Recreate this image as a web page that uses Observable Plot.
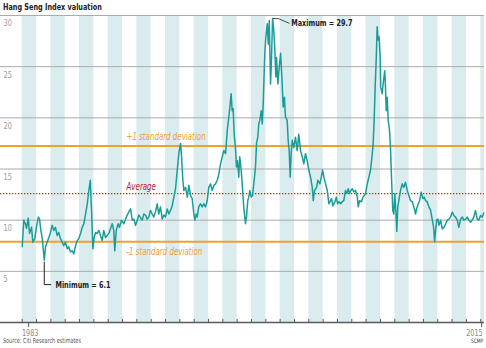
<!DOCTYPE html>
<html>
<head>
<meta charset="utf-8">
<script src="https://cdn.jsdelivr.net/npm/d3@7"></script>
<script src="https://cdn.jsdelivr.net/npm/@observablehq/plot@0.6"></script>
<style>
  html, body { margin: 0; padding: 0; background: #fff; }
  body { width: 486px; height: 348px; position: relative; overflow: hidden;
         font-family: "Liberation Sans Narrow", "DejaVu Sans Condensed", Roboto, sans-serif; }
  #title { position: absolute; left: 3px; top: 0; height: 13px; line-height: 13px;
           font-size: 9.5px; font-weight: bold; color: #222; white-space: nowrap;
           transform: scaleX(0.76); transform-origin: 0 50%; }
  #chart { position: absolute; left: 0; top: 12px; }
  #source { position: absolute; left: 3px; top: 336px; line-height: 10px; font-size: 7px; color: #555; white-space: nowrap;
            transform: scaleX(0.78); transform-origin: 0 50%; }
  #credit { position: absolute; right: 3px; top: 336px; line-height: 10px; font-size: 6px; color: #333; white-space: nowrap;
            transform: scaleX(0.8); transform-origin: 100% 50%; }
</style>
</head>
<body>
<div id="title">Hang Seng Index valuation</div>
<div id="chart"></div>
<div id="source">Source: Citi Research estimates</div>
<div id="credit">SCMP</div>
<script>
// ---- Data ----
const years = [
  1983.00,1983.11,1983.23,1983.30,1983.42,1983.51,1983.65,1983.74,1983.88,1983.98,
  1984.12,1984.21,1984.28,1984.40,1984.54,1984.63,1984.74,1984.86,1984.97,
  1985.09,1985.21,1985.32,1985.44,1985.55,1985.67,1985.79,1985.90,
  1986.02,1986.14,1986.25,1986.37,1986.49,1986.60,1986.72,1986.84,1986.95,
  1987.07,1987.19,1987.30,1987.42,1987.54,1987.65,1987.75,1987.84,1987.93,
  1988.02,1988.12,1988.23,1988.35,1988.46,1988.58,1988.69,1988.81,
  1989.04,1989.16,1989.28,1989.39,1989.46,1989.56,1989.70,1989.79,1989.93,
  1990.09,1990.21,1990.33,1990.44,1990.56,1990.68,1990.79,1990.91,
  1991.03,1991.14,1991.37,1991.49,1991.60,1991.72,1991.83,1991.95,
  1992.07,1992.18,1992.30,1992.42,1992.53,1992.65,1992.77,1992.88,
  1993.00,1993.12,1993.23,1993.35,1993.47,1993.58,1993.70,1993.82,1993.93,
  1994.05,1994.12,1994.21,1994.28,1994.40,1994.52,1994.63,1994.75,1994.86,1994.98,
  1995.05,1995.14,1995.21,1995.32,1995.44,1995.56,1995.67,1995.79,1995.91,
  1996.02,1996.14,1996.26,1996.37,1996.49,1996.61,1996.72,1996.84,1996.96,
  1997.07,1997.19,1997.31,1997.42,1997.49,1997.58,1997.65,1997.72,1997.79,1997.88,1997.95,
  1998.02,1998.11,1998.18,1998.28,1998.35,1998.46,1998.58,1998.65,1998.74,1998.81,1998.88,1998.98,
  1999.07,1999.16,1999.28,1999.35,1999.44,1999.51,1999.58,1999.68,1999.75,1999.82,1999.86,1999.93,
  2000.00,2000.10,2000.17,2000.24,2000.33,2000.40,2000.47,2000.56,2000.63,2000.70,2000.75,2000.84,2000.94,
  2001.03,2001.12,2001.21,2001.30,2001.37,2001.49,2001.56,2001.63,2001.70,2001.77,2001.84,2001.95,
  2002.07,2002.19,2002.30,2002.42,2002.54,2002.65,2002.77,2002.89,
  2003.00,2003.12,2003.24,2003.31,2003.40,2003.54,2003.63,2003.77,2003.87,2003.96,
  2004.05,2004.17,2004.29,2004.40,2004.59,2004.68,2004.82,2004.92,
  2005.01,2005.10,2005.22,2005.33,2005.44,2005.56,2005.65,2005.75,2005.84,2005.93,
  2006.03,2006.14,2006.26,2006.38,2006.45,2006.54,2006.68,2006.77,2006.87,2006.96,
  2007.08,2007.19,2007.31,2007.43,2007.49,2007.56,2007.63,2007.70,2007.77,2007.84,2007.91,2007.98,
  2008.02,2008.12,2008.21,2008.30,2008.35,2008.40,2008.47,2008.54,2008.63,2008.70,2008.77,2008.86,2008.93,
  2009.00,2009.07,2009.14,2009.21,2009.28,2009.40,2009.52,2009.63,2009.75,2009.87,2009.98,
  2010.10,2010.22,2010.33,2010.45,2010.52,2010.64,2010.73,2010.84,2010.96,
  2011.05,2011.15,2011.26,2011.38,2011.50,2011.62,2011.71,2011.78,2011.85,2011.92,
  2012.01,2012.08,2012.20,2012.31,2012.43,2012.55,2012.66,2012.78,2012.89,
  2013.01,2013.12,2013.24,2013.36,2013.47,2013.59,2013.71,2013.82,2013.94,
  2014.06,2014.17,2014.29,2014.40,2014.51,2014.63,2014.75,2014.86,2014.98,
  2015.10,2015.21
];
const peRatio = [
  7.4,10.0,9.6,9.2,10.2,8.7,9.3,7.85,8.2,9.2,
  10.3,10.1,9.2,8.2,6.1,7.4,7.85,8.3,8.8,
  9.5,9.0,9.3,8.5,8.8,8.2,7.85,7.5,
  7.85,7.2,7.4,6.9,7.0,6.7,7.5,8.0,8.2,
  8.7,9.3,9.65,10.6,11.6,12.9,13.9,10.9,7.2,
  8.3,8.8,8.7,9.0,8.5,8.0,9.0,8.3,
  8.7,9.15,9.65,9.0,7.0,9.0,9.65,9.3,10.0,
  9.65,10.1,10.5,10.8,11.1,10.0,10.1,9.5,
  10.0,10.5,10.0,10.6,10.5,10.1,10.3,10.95,
  10.6,10.3,10.8,11.6,10.6,11.3,10.1,10.5,
  10.3,11.1,10.6,10.95,11.4,12.25,13.07,14.9,16.5,
  17.5,16.2,13.9,12.9,13.2,12.25,13.4,12.4,12.1,10.6,
  10.0,10.6,10.3,11.3,11.6,11.3,11.6,11.3,11.9,
  13.2,13.55,12.9,13.4,13.55,13.9,14.5,15.5,16.2,
  16.8,16.5,18.8,20.1,21.05,22.35,20.7,20.9,18.4,17.1,15.2,
  15.8,14.2,16.2,14.9,13.55,11.3,9.65,10.3,11.9,12.25,12.9,12.25,
  12.4,13.55,15.2,17.5,18.1,19.4,19.75,20.7,19.4,21.4,23.3,26.3,
  27.9,29.2,27.2,29.5,23.3,25.9,29.7,28.5,26.6,24.0,25.9,23.3,25.0,
  26.3,24.0,21.05,22.0,20.1,19.75,17.8,16.8,14.2,16.5,17.8,17.1,
  18.1,16.8,18.4,16.8,16.2,15.5,16.5,15.8,
  14.9,14.2,13.2,11.9,12.9,13.2,13.9,13.55,14.2,14.9,
  14.2,13.55,12.9,11.6,12.1,11.4,11.8,12.25,
  11.6,11.8,11.6,11.8,11.9,12.9,12.6,13.07,12.6,12.9,
  13.07,12.75,12.9,12.25,11.3,11.9,11.8,12.25,12.4,12.6,
  13.55,14.2,14.9,16.5,17.5,19.75,23.0,25.6,28.9,27.6,27.9,25.9,
  23.0,22.35,23.65,24.6,23.0,20.7,22.0,19.75,18.8,17.1,14.2,10.95,10.6,
  12.6,10.95,8.9,11.3,11.9,12.9,13.55,13.2,13.7,12.9,12.4,
  11.9,11.8,11.3,10.6,11.1,11.6,11.9,12.75,12.1,
  12.25,11.9,11.8,11.3,10.95,10.0,9.3,7.9,9.0,10.0,
  10.1,9.5,10.0,9.15,9.3,9.65,10.0,10.1,10.3,
  10.8,10.45,10.3,10.0,9.3,10.1,10.3,10.0,10.1,
  10.3,10.0,9.8,10.0,10.3,10.95,10.1,10.0,10.45,
  10.3,10.7
];

const yTicks = [5, 10, 15, 20, 25, 30];
const stripeYears = [1983,1985,1987,1989,1991,1993,1995,1997,1999,2001,2003,2005,2007,2009,2011,2013,2015];
const yearMarks = [1983,1984,1985,1986,1987,1988,1989,1990,1991,1992,1993,1994,1995,1996,1997,1998,1999,
                   2000,2001,2002,2003,2004,2005,2006,2007,2008,2009,2010,2011,2012,2013,2014,2015];
const xLabelPos = [1983.45, 2015.06];
const xLabels = ["1983", "2015"];

const refNames = ["+1 standard deviation", "Average", "-1 standard deviation"];
const refValues = [17.25, 12.6, 7.9];

// ---- Build table ----
const data = years.map((y, i) => ({year: y, pe: peRatio[i]}));
const minPt = d3.least(data, d => d.pe);
const maxPt = d3.greatest(data, d => d.pe);

const xDomain = [1981.485, 2015.26];
const font = '"Liberation Sans Narrow", "DejaVu Sans Condensed", Roboto, sans-serif';
const orange = "#ef9f34";
const teal = "#1a9d99";
const labelX = 1990.28;

const chart = Plot.plot({
  width: 486,
  height: 326,
  marginTop: 3,
  marginBottom: 16,
  marginLeft: 0,
  marginRight: 2,
  x: {domain: xDomain, axis: null},
  y: {domain: [0, 30], axis: null},
  style: {fontFamily: font, overflow: "visible", background: "transparent"},
  marks: [
    Plot.rect(stripeYears, {x1: d => d, x2: d => d + 1, y1: 0, y2: 30, fill: "#dbecee", clip: true}),
    Plot.ruleY(yTicks, {stroke: "#ababab", strokeWidth: 1}),
    Plot.text(yTicks, {x: xDomain[0], y: d => d, text: d => String(d), textAnchor: "start",
                       dx: 3, dy: 8, fill: "#9b9b9b", fontSize: 9}),
    Plot.ruleY([refValues[0], refValues[2]], {stroke: orange, strokeWidth: 2}),
    Plot.ruleY([refValues[1]], {stroke: "#d0261f", strokeWidth: 1.3, strokeDasharray: "1.3,1.7"}),
    Plot.text([refNames[0]], {x: labelX, y: refValues[0], text: d => d, textAnchor: "start", dy: -9,
                              fill: orange, fontStyle: "italic", fontSize: 9.8}),
    Plot.text([refNames[1]], {x: labelX, y: refValues[1], text: d => d, textAnchor: "start", dy: -6.5,
                              fill: "#b3242a", fontStyle: "italic", fontSize: 9.8}),
    Plot.text([refNames[2]], {x: labelX, y: refValues[2], text: d => d, textAnchor: "start", dy: 10,
                              fill: orange, fontStyle: "italic", fontSize: 9.8}),
    Plot.line(data, {x: "year", y: "pe", stroke: teal, strokeWidth: 1.5, strokeLinejoin: "round"}),
    Plot.ruleY([0], {stroke: "#5a5a5a", strokeWidth: 1.3}),
    Plot.ruleX(yearMarks, {x: d => d, y1: 0, y2: 0.3, stroke: "#5a5a5a", strokeWidth: 1}),
    Plot.ruleX(xLabelPos, {x: d => d, y1: 0, y2: -0.5, stroke: "#5a5a5a", strokeWidth: 1}),
    Plot.text([xLabels[0]], {x: xLabelPos[0], y: 0, text: d => d, dy: 11, dx: 1.5, textAnchor: "middle",
                             fill: "#8a8a8a", fontSize: 9}),
    Plot.text([xLabels[1]], {x: xLabelPos[1], y: 0, text: d => d, dy: 11, dx: 1, textAnchor: "end",
                             fill: "#8a8a8a", fontSize: 9}),
    Plot.line([[minPt.year, minPt.pe - 0.2], [minPt.year, minPt.pe - 2.4], [minPt.year + 0.45, minPt.pe - 2.4]],
              {x: d => d[0], y: d => d[1], stroke: "#222", strokeWidth: 1}),
    Plot.text([minPt], {x: d => d.year + 0.78, y: d => d.pe - 2.4, text: d => `Minimum = ${d.pe}`,
                        textAnchor: "start", fill: "#222", fontWeight: "bold", fontSize: 9}),
    Plot.line([[maxPt.year + 0.05, maxPt.pe], [maxPt.year + 0.4, maxPt.pe], [maxPt.year + 1.15, maxPt.pe - 0.45]],
              {x: d => d[0], y: d => d[1], stroke: "#222", strokeWidth: 0.8}),
    Plot.text([maxPt], {x: d => d.year + 1.3, y: d => d.pe - 0.42, text: d => `Maximum = ${d.pe}`,
                        textAnchor: "start", fill: "#222", fontWeight: "bold", fontSize: 9})
  ]
});
document.getElementById("chart").appendChild(chart);

// emulate the narrow newspaper typeface: compress glyphs horizontally, text stays real text
chart.querySelectorAll("text").forEach(t => {
  const w = t.getComputedTextLength();
  if (w > 0) {
    t.setAttribute("textLength", (w * 0.8).toFixed(1));
    t.setAttribute("lengthAdjust", "spacingAndGlyphs");
  }
});
</script>
</body>
</html>
